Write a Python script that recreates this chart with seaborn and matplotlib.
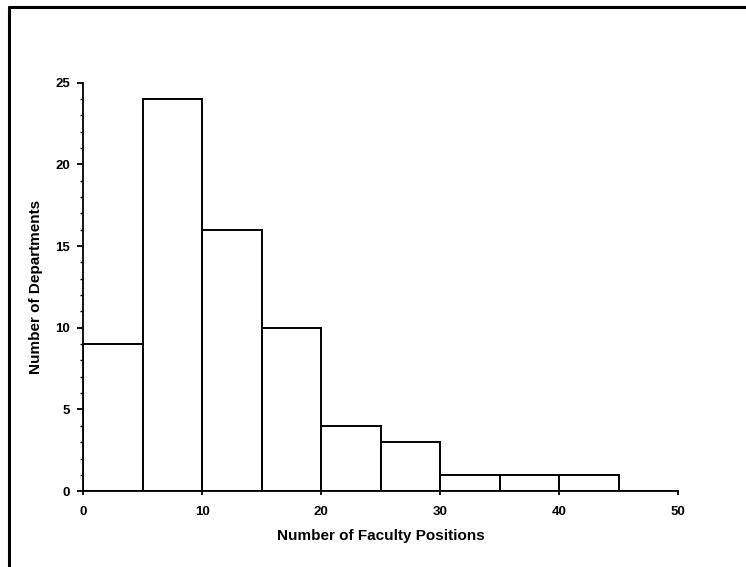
import matplotlib
matplotlib.use("Agg")
import matplotlib.pyplot as plt
from matplotlib.lines import Line2D
from matplotlib.ticker import MultipleLocator
import seaborn as sns

# histogram data
bin_left = [0, 5, 10, 15, 20, 25, 30, 35, 40, 45]
bin_width = 5
counts = [9, 24, 16, 10, 4, 3, 1, 1, 1, 0]
x_ticks = [0, 10, 20, 30, 40, 50]
y_ticks = [0, 5, 10, 15, 20, 25]

sns.set_style("ticks")
plt.rcParams["font.family"] = ["Liberation Sans", "DejaVu Sans"]
plt.rcParams["font.weight"] = "bold"
for key in ["text.color", "axes.labelcolor", "xtick.color", "ytick.color",
            "axes.edgecolor"]:
    plt.rcParams[key] = "black"

fig = plt.figure(figsize=(7.46, 5.67), dpi=100)
ax = fig.add_axes([0.1117, 0.1337, 0.7975, 0.7205])

edges = bin_left + [bin_left[-1] + bin_width]
centers = [b + bin_width / 2 for b in bin_left]
sns.histplot(x=centers, weights=counts, bins=edges, ax=ax,
             color="white", edgecolor="black", linewidth=1.4, alpha=1)

ax.set_xlim(0, 50)
ax.set_ylim(0, 25)
ax.set_xticks(x_ticks)
ax.set_yticks(y_ticks)
ax.yaxis.set_minor_locator(MultipleLocator(1))
ax.tick_params(axis="x", which="major", length=3, width=1.3,
               labelsize=9.5, direction="out", pad=7.5)
ax.tick_params(axis="y", which="major", length=4.5, width=1.3,
               labelsize=9.5, direction="out", pad=5)
ax.tick_params(axis="y", which="minor", length=2.5, width=1.0)
for lab in ax.get_xticklabels() + ax.get_yticklabels():
    lab.set_fontweight("bold")

for side in ["top", "right"]:
    ax.spines[side].set_visible(False)
for side in ["left", "bottom"]:
    ax.spines[side].set_linewidth(1.3)

ax.set_xlabel("Number of Faculty Positions", fontsize=11, fontweight="bold")
ax.set_ylabel("Number of Departments", fontsize=11, fontweight="bold")
ax.xaxis.set_label_coords(0.5, -0.093)
ax.yaxis.set_label_coords(-0.068, 0.5)

# outer frame (top and left edges only)
fig.add_artist(Line2D([0.0114, 1.0], [0.9885, 0.9885], color="black",
                      linewidth=2.2, transform=fig.transFigure))
fig.add_artist(Line2D([0.0114, 0.0114], [0.0, 0.9885], color="black",
                      linewidth=2.2, transform=fig.transFigure))

fig.savefig("out.png", dpi=100)
plt.close(fig)
